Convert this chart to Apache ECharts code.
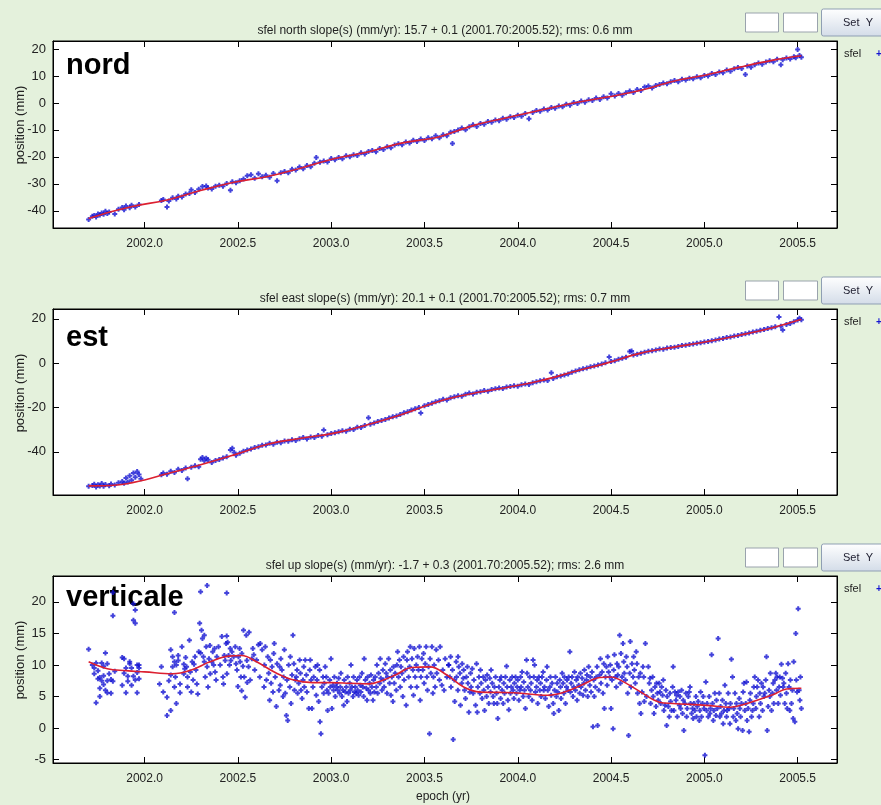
<!DOCTYPE html>
<html><head><meta charset="utf-8">
<script src="https://cdn.jsdelivr.net/npm/echarts@6/dist/echarts.min.js"></script>
<style>html,body{margin:0;padding:0;background:#e4f1dc}#c{width:881px;height:805px}</style>
</head><body><div id="c"></div>
<script>
const xTicks = [2002.0, 2002.5, 2003.0, 2003.5, 2004.0, 2004.5, 2005.0, 2005.5];
const northTicks = [-40, -30, -20, -10, 0, 10, 20];
const eastTicks = [-40, -20, 0, 20];
const upTicks = [-5, 0, 5, 10, 15, 20];
const titles = [
  'sfel north slope(s) (mm/yr): 15.7 + 0.1 (2001.70:2005.52); rms: 0.6 mm',
  'sfel east slope(s) (mm/yr): 20.1 + 0.1 (2001.70:2005.52); rms: 0.7 mm',
  'sfel up slope(s) (mm/yr): -1.7 + 0.3 (2001.70:2005.52); rms: 2.6 mm'
];
const panelLabels = ['nord', 'est', 'verticale'];
const yAxisName = 'position (mm)';
const xAxisName = 'epoch (yr)';
const legendName = 'sfel';

const northModel = [[2001.70,-42.9],[2001.82,-40.4],[2001.94,-38.3],[2002.12,-36.0],[2002.30,-32.5],[2002.48,-29.4],[2002.66,-27.3],[2002.84,-24.1],[2003.01,-20.8],[2003.19,-18.3],[2003.37,-15.0],[2003.58,-12.5],[2003.76,-8.4],[2003.94,-5.5],[2004.12,-2.7],[2004.30,0.0],[2004.48,2.2],[2004.66,4.7],[2004.83,8.0],[2005.01,10.4],[2005.19,13.3],[2005.37,15.9],[2005.52,17.5]];
const eastModel = [[2001.70,-55.4],[2001.85,-55.0],[2002.00,-52.7],[2002.12,-49.9],[2002.30,-45.9],[2002.48,-41.4],[2002.66,-36.6],[2002.84,-33.9],[2003.01,-31.7],[2003.19,-27.9],[2003.37,-23.4],[2003.58,-17.2],[2003.76,-13.7],[2003.94,-11.0],[2004.12,-8.0],[2004.30,-3.9],[2004.48,0.1],[2004.66,4.5],[2004.83,7.1],[2005.01,9.6],[2005.19,12.6],[2005.37,16.1],[2005.52,19.8]];
const upModel = [[2001.70,10.5],[2001.80,9.4],[2001.90,9.1],[2002.00,8.9],[2002.15,8.6],[2002.25,9.2],[2002.35,10.5],[2002.45,11.4],[2002.52,11.5],[2002.60,10.5],[2002.70,8.8],[2002.80,7.6],[2002.90,7.2],[2003.00,7.2],[2003.10,7.1],[2003.20,7.0],[2003.27,7.5],[2003.35,8.5],[2003.43,9.6],[2003.53,9.7],[2003.62,8.4],[2003.71,6.5],[2003.80,5.7],[2003.98,5.6],[2004.16,5.2],[2004.25,5.7],[2004.34,6.8],[2004.44,8.0],[2004.50,8.1],[2004.55,7.6],[2004.66,5.7],[2004.76,4.1],[2004.83,3.9],[2005.01,3.6],[2005.14,3.3],[2005.23,3.9],[2005.37,5.3],[2005.44,6.2],[2005.52,6.3]];

const northPts = [[2001.70,-43.2],[2001.72,-42.0],[2001.73,-41.8],[2001.74,-42.3],[2001.75,-41.2],[2001.76,-41.6],[2001.77,-40.8],[2001.78,-41.3],[2001.79,-40.2],[2001.80,-41.0],[2001.81,-40.5],[2001.84,-41.2],[2001.86,-39.4],[2001.88,-38.8],[2001.89,-39.6],[2001.90,-38.2],[2001.92,-38.9],[2001.93,-38.0],[2001.95,-38.6],[2001.97,-37.7],[2002.09,-36.2],[2002.10,-35.8],[2002.12,-38.6],[2002.13,-36.4],[2002.15,-35.2],[2002.17,-35.6],[2002.18,-34.6],[2002.20,-34.9],[2002.22,-33.8],[2002.24,-33.6],[2002.25,-32.2],[2002.27,-33.2],[2002.29,-32.0],[2002.31,-31.0],[2002.33,-30.8],[2002.34,-31.6],[2002.36,-31.9],[2002.38,-30.9],[2002.40,-30.5],[2002.42,-30.9],[2002.44,-29.9],[2002.46,-32.4],[2002.47,-29.2],[2002.49,-29.6],[2002.51,-28.9],[2002.53,-28.2],[2002.55,-27.0],[2002.57,-26.6],[2002.59,-27.9],[2002.61,-26.3],[2002.63,-27.4],[2002.65,-26.8],[2002.67,-27.6],[2002.69,-26.2],[2002.71,-28.9],[2002.73,-25.9],[2002.75,-25.4],[2002.77,-25.9],[2002.79,-24.6],[2002.81,-24.9],[2002.83,-23.8],[2002.85,-24.4],[2002.87,-23.2],[2002.89,-23.7],[2002.91,-22.4],[2002.92,-20.2],[2002.94,-22.0],[2002.96,-21.5],[2002.98,-21.9],[2003.00,-20.6],[2003.02,-21.1],[2003.04,-20.2],[2003.06,-20.7],[2003.08,-19.6],[2003.10,-20.0],[2003.12,-19.2],[2003.14,-19.5],[2003.16,-18.5],[2003.18,-18.9],[2003.20,-18.0],[2003.22,-17.6],[2003.24,-18.1],[2003.26,-16.9],[2003.28,-17.3],[2003.30,-16.2],[2003.32,-16.6],[2003.34,-15.6],[2003.36,-15.1],[2003.38,-15.5],[2003.40,-14.5],[2003.42,-14.9],[2003.44,-13.8],[2003.46,-14.3],[2003.48,-13.4],[2003.50,-13.9],[2003.52,-12.9],[2003.54,-13.3],[2003.56,-12.2],[2003.58,-12.9],[2003.60,-11.8],[2003.62,-12.2],[2003.64,-10.9],[2003.65,-15.0],[2003.66,-10.6],[2003.68,-10.0],[2003.70,-9.3],[2003.72,-9.9],[2003.74,-8.8],[2003.76,-8.1],[2003.78,-8.7],[2003.80,-7.6],[2003.82,-7.9],[2003.84,-6.9],[2003.86,-7.2],[2003.88,-6.3],[2003.90,-6.6],[2003.92,-5.7],[2003.94,-6.0],[2003.96,-5.1],[2003.98,-5.4],[2004.00,-4.6],[2004.02,-4.9],[2004.04,-3.9],[2004.06,-5.9],[2004.08,-3.5],[2004.10,-2.8],[2004.12,-3.1],[2004.14,-2.2],[2004.16,-2.6],[2004.18,-1.7],[2004.20,-2.0],[2004.22,-1.1],[2004.24,-1.4],[2004.26,-0.5],[2004.28,-0.8],[2004.30,0.2],[2004.32,-0.2],[2004.34,0.7],[2004.36,0.3],[2004.38,1.2],[2004.40,0.9],[2004.42,1.8],[2004.44,1.3],[2004.46,2.3],[2004.48,1.8],[2004.50,3.4],[2004.52,2.6],[2004.54,3.5],[2004.56,2.9],[2004.58,3.8],[2004.60,4.4],[2004.62,3.9],[2004.64,5.0],[2004.66,4.6],[2004.68,5.9],[2004.70,6.3],[2004.72,5.6],[2004.74,6.5],[2004.76,6.9],[2004.78,7.4],[2004.80,7.1],[2004.82,7.9],[2004.84,8.3],[2004.86,7.9],[2004.88,8.8],[2004.90,8.5],[2004.92,9.2],[2004.94,9.0],[2004.96,9.7],[2004.98,9.4],[2005.00,10.2],[2005.02,10.0],[2005.04,10.9],[2005.06,10.6],[2005.08,11.5],[2005.10,11.2],[2005.12,12.2],[2005.14,11.8],[2005.16,12.7],[2005.18,13.2],[2005.20,12.8],[2005.22,10.6],[2005.23,13.7],[2005.25,13.3],[2005.27,14.2],[2005.29,14.8],[2005.31,14.4],[2005.33,15.2],[2005.35,15.7],[2005.37,15.3],[2005.39,16.2],[2005.41,14.2],[2005.42,16.0],[2005.44,16.7],[2005.46,16.3],[2005.48,17.2],[2005.49,16.8],[2005.50,19.8],[2005.51,17.6],[2005.52,17.0]];

const eastPts = [[2001.70,-55.6],[2001.72,-55.2],[2001.73,-54.6],[2001.74,-55.9],[2001.75,-54.9],[2001.76,-55.4],[2001.77,-54.3],[2001.78,-55.6],[2001.79,-54.8],[2001.81,-55.3],[2001.82,-54.5],[2001.84,-55.0],[2001.86,-54.0],[2001.88,-53.4],[2001.89,-54.2],[2001.90,-51.8],[2001.91,-53.6],[2001.92,-50.8],[2001.93,-52.9],[2001.94,-49.6],[2001.95,-51.5],[2001.96,-48.9],[2001.97,-50.3],[2001.98,-52.2],[2002.09,-50.4],[2002.10,-49.6],[2002.12,-50.1],[2002.14,-48.8],[2002.16,-49.3],[2002.18,-47.9],[2002.20,-48.4],[2002.22,-47.3],[2002.23,-52.2],[2002.25,-47.0],[2002.27,-46.3],[2002.29,-46.8],[2002.30,-43.4],[2002.31,-42.6],[2002.32,-44.0],[2002.33,-42.9],[2002.34,-43.6],[2002.36,-44.8],[2002.38,-43.9],[2002.40,-43.5],[2002.42,-42.8],[2002.44,-42.2],[2002.46,-39.2],[2002.47,-38.4],[2002.48,-40.3],[2002.49,-41.6],[2002.51,-40.7],[2002.53,-39.8],[2002.55,-39.2],[2002.57,-38.7],[2002.59,-38.1],[2002.61,-37.7],[2002.63,-37.1],[2002.65,-36.9],[2002.67,-36.2],[2002.69,-36.6],[2002.71,-35.7],[2002.73,-35.9],[2002.75,-35.1],[2002.77,-35.3],[2002.79,-34.6],[2002.81,-34.9],[2002.83,-34.1],[2002.85,-33.6],[2002.87,-34.2],[2002.89,-33.3],[2002.91,-33.6],[2002.93,-32.7],[2002.95,-33.0],[2002.96,-30.2],[2002.98,-32.3],[2003.00,-31.8],[2003.02,-31.4],[2003.04,-31.0],[2003.06,-30.5],[2003.08,-30.8],[2003.10,-29.8],[2003.12,-30.0],[2003.14,-28.9],[2003.16,-29.1],[2003.18,-28.2],[2003.20,-24.6],[2003.21,-27.6],[2003.23,-27.0],[2003.25,-26.4],[2003.27,-25.9],[2003.29,-25.5],[2003.31,-24.8],[2003.33,-24.2],[2003.35,-23.9],[2003.37,-23.2],[2003.39,-22.4],[2003.41,-22.0],[2003.43,-21.2],[2003.45,-20.6],[2003.47,-20.0],[2003.48,-22.5],[2003.50,-19.2],[2003.52,-18.7],[2003.54,-18.1],[2003.56,-17.4],[2003.58,-17.0],[2003.60,-16.3],[2003.62,-16.7],[2003.64,-15.6],[2003.66,-15.2],[2003.68,-14.7],[2003.70,-14.9],[2003.72,-14.1],[2003.74,-13.5],[2003.76,-13.9],[2003.78,-13.2],[2003.80,-12.9],[2003.82,-12.4],[2003.84,-12.7],[2003.86,-11.9],[2003.88,-11.6],[2003.90,-11.2],[2003.92,-11.5],[2003.94,-10.8],[2003.96,-10.6],[2003.98,-10.2],[2004.00,-10.5],[2004.02,-9.8],[2004.04,-9.4],[2004.06,-9.7],[2004.08,-8.9],[2004.10,-8.4],[2004.12,-8.0],[2004.14,-7.6],[2004.16,-7.9],[2004.18,-4.3],[2004.19,-6.9],[2004.21,-6.2],[2004.23,-5.8],[2004.25,-5.4],[2004.27,-4.9],[2004.29,-4.1],[2004.31,-3.6],[2004.33,-3.0],[2004.35,-2.6],[2004.37,-2.2],[2004.39,-1.7],[2004.41,-1.3],[2004.43,-0.9],[2004.45,-0.4],[2004.47,0.2],[2004.49,2.8],[2004.50,0.7],[2004.52,1.1],[2004.54,1.7],[2004.56,2.2],[2004.58,2.6],[2004.60,5.2],[2004.61,5.4],[2004.62,3.6],[2004.64,4.0],[2004.66,4.4],[2004.68,4.9],[2004.70,5.3],[2004.72,5.6],[2004.74,5.9],[2004.76,6.4],[2004.78,6.3],[2004.80,6.8],[2004.82,7.0],[2004.84,7.2],[2004.86,7.5],[2004.88,7.9],[2004.90,8.1],[2004.92,8.4],[2004.94,8.6],[2004.96,8.9],[2004.98,9.2],[2005.00,9.5],[2005.02,9.7],[2005.04,10.1],[2005.06,10.4],[2005.08,10.9],[2005.10,11.1],[2005.12,11.5],[2005.14,11.8],[2005.16,12.2],[2005.18,12.4],[2005.20,12.9],[2005.22,13.2],[2005.24,13.6],[2005.26,14.0],[2005.28,14.4],[2005.30,14.8],[2005.32,15.1],[2005.34,15.6],[2005.36,15.9],[2005.38,16.4],[2005.40,20.8],[2005.41,16.6],[2005.42,14.9],[2005.44,17.4],[2005.46,17.9],[2005.48,18.6],[2005.50,19.4],[2005.51,20.2],[2005.52,19.6]];

const upPts = [
[2001.70,12.5],[2001.72,10.0],[2001.73,9.5],[2001.73,8.6],[2001.74,4.0],[2001.74,10.3],[2001.75,7.8],[2001.75,9.1],[2001.76,5.0],[2001.76,6.3],[2001.76,8.0],[2001.77,10.3],[2001.77,7.5],[2001.78,9.8],[2001.78,8.3],[2001.78,6.9],[2001.79,6.0],[2001.79,11.9],[2001.80,7.5],[2001.80,5.6],[2001.80,10.2],[2001.81,8.6],[2001.82,7.7],[2001.82,5.5],[2001.83,21.5],[2001.83,17.8],[2001.83,7.4],[2001.84,9.0],[2001.88,6.8],[2001.88,11.2],[2001.89,8.7],[2001.89,11.0],[2001.90,9.5],[2001.90,5.6],[2001.91,7.4],[2001.91,8.2],[2001.92,10.5],[2001.92,10.2],[2001.93,6.8],[2001.93,9.5],[2001.94,19.7],[2001.94,17.1],[2001.94,8.2],[2001.95,18.7],[2001.95,16.6],[2001.95,7.6],[2001.96,10.0],[2001.96,5.6],[2001.96,8.8],[2001.97,9.5],[2001.97,7.8],[2001.97,10.0],
[2002.08,7.0],[2002.09,9.7],[2002.10,5.7],[2002.12,2.0],[2002.12,4.9],[2002.13,7.5],[2002.14,8.4],[2002.14,2.8],[2002.14,12.4],[2002.15,11.3],[2002.15,9.7],[2002.16,10.5],[2002.16,6.5],[2002.16,18.3],[2002.165,8.1],[2002.17,3.9],[2002.17,10.0],[2002.18,10.7],[2002.18,11.5],[2002.19,7.0],[2002.19,5.6],[2002.20,12.9],[2002.21,8.6],[2002.21,10.1],[2002.215,9.4],[2002.22,11.2],[2002.225,9.7],[2002.23,8.1],[2002.23,6.5],[2002.24,13.9],[2002.245,8.9],[2002.25,5.7],[2002.255,10.5],[2002.26,7.6],[2002.265,10.1],[2002.27,11.3],[2002.275,9.2],[2002.28,7.0],[2002.285,5.4],[2002.29,12.1],[2002.295,16.6],[2002.30,21.6],[2002.30,11.9],[2002.305,15.5],[2002.31,14.2],[2002.315,11.3],[2002.32,10.5],[2002.32,14.7],[2002.325,8.1],[2002.33,12.9],[2002.335,22.6],[2002.335,9.7],[2002.34,6.5],[2002.345,11.0],[2002.35,13.1],[2002.352,8.6],[2002.36,10.5],[2002.365,12.1],[2002.37,10.0],[2002.375,12.6],[2002.378,8.9],[2002.383,7.6],[2002.387,11.3],[2002.396,12.9],[2002.405,10.0],[2002.414,14.5],[2002.42,8.1],[2002.423,7.0],[2002.427,11.5],[2002.432,10.7],[2002.437,13.4],[2002.44,21.4],[2002.44,14.6],[2002.441,8.6],[2002.445,13.6],[2002.45,11.5],[2002.455,10.0],[2002.459,12.6],[2002.462,10.7],[2002.468,12.1],[2002.477,11.3],[2002.486,12.9],[2002.49,10.2],[2002.495,9.2],[2002.50,6.6],[2002.503,11.3],[2002.509,12.6],[2002.512,10.5],[2002.516,8.1],[2002.52,5.9],[2002.521,11.8],[2002.527,9.8],[2002.53,15.5],[2002.534,8.1],[2002.539,4.9],[2002.545,14.7],[2002.548,10.7],[2002.55,7.2],[2002.557,9.7],[2002.56,15.2],[2002.566,7.6],[2002.575,11.0],
[2002.58,12.6],[2002.585,11.6],[2002.59,9.2],[2002.60,10.8],[2002.61,13.2],[2002.617,8.1],[2002.62,13.4],[2002.63,12.4],[2002.64,6.5],[2002.642,10.0],[2002.647,12.9],[2002.653,7.6],[2002.66,11.3],[2002.665,8.7],[2002.67,4.4],[2002.674,10.8],[2002.678,7.1],[2002.683,9.7],[2002.688,5.7],[2002.692,11.8],[2002.695,13.4],[2002.70,8.1],[2002.706,3.4],[2002.71,10.2],[2002.72,6.0],[2002.724,9.7],[2002.727,6.8],[2002.73,11.0],[2002.736,9.2],[2002.742,5.0],[2002.745,8.1],[2002.749,12.4],[2002.754,5.5],[2002.76,2.0],[2002.763,7.6],[2002.767,1.2],[2002.772,10.0],[2002.778,6.5],[2002.781,11.3],[2002.785,3.9],[2002.79,8.4],[2002.795,14.7],[2002.80,10.2],[2002.803,6.0],[2002.808,7.6],[2002.813,8.1],[2002.817,9.2],[2002.82,5.5],[2002.826,7.1],[2002.831,10.8],[2002.835,8.7],[2002.838,6.0],[2002.844,4.7],[2002.849,7.6],[2002.853,9.7],[2002.856,6.5],[2002.861,10.8],[2002.867,8.4],[2002.87,5.7],[2002.88,3.1],[2002.885,9.2],[2002.888,10.8],[2002.892,7.6],[2002.897,3.1],[2002.902,6.5],[2002.906,8.1],[2002.915,9.7],[2002.92,5.2],[2002.924,7.6],[2002.927,10.0],[2002.933,4.2],[2002.938,9.2],[2002.94,1.0],[2002.945,-0.9],[2002.95,6.5],[2002.956,8.1],[2002.96,5.5],[2002.963,7.1],[2002.968,9.7],[2002.974,8.1],[2002.977,6.0],[2002.981,2.8],[2002.986,5.5],[2002.992,7.6],[2002.995,6.5],[2002.999,11.0],[2003.004,3.1],[2003.01,6.8],[2003.013,6.0],[2003.017,8.1],[2003.022,5.0],[2003.027,6.5],[2003.031,7.1],[2003.035,6.0],[2003.04,7.9],[2003.045,5.5],[2003.049,6.5],[2003.052,8.7],[2003.058,5.0],[2003.063,6.0],[2003.067,3.6],[2003.07,7.6],[2003.076,5.7],[2003.081,6.5],[2003.085,4.2],[2003.088,8.1],[2003.093,5.5],[2003.099,7.1],[2003.102,6.0],[2003.106,10.0],[2003.111,6.5],[2003.117,5.0],[2003.12,8.1],[2003.124,5.7],[2003.129,6.5],[2003.134,5.5],[2003.138,7.6],[2003.142,6.0],[2003.147,5.2],[2003.152,8.1],[2003.156,6.8],[2003.159,5.7],[2003.165,8.7],[2003.17,6.5],[2003.174,5.0],[2003.177,11.0],[2003.183,7.6],[2003.188,6.3],[2003.192,4.4],[2003.195,8.1],[2003.20,6.0],[2003.206,7.1],[2003.21,5.5],[2003.213,8.4],[2003.218,6.5],[2003.224,4.4],[2003.227,7.6],[2003.231,5.7],[2003.236,8.1],[2003.242,6.5],[2003.245,10.0],[2003.249,5.5],[2003.254,8.7],[2003.26,7.1],[2003.263,11.0],[2003.266,7.9],[2003.272,6.0],[2003.277,9.2],[2003.281,7.6],[2003.284,6.5],[2003.29,10.2],[2003.295,8.7],[2003.299,5.5],[2003.302,8.1],[2003.308,11.0],[2003.313,7.1],[2003.317,9.2],[2003.32,5.2],[2003.325,8.1],[2003.331,4.2],[2003.334,9.7],[2003.338,7.1],[2003.343,8.7],[2003.349,6.0],[2003.352,10.0],[2003.356,12.1],[2003.361,8.1],[2003.366,10.8],[2003.37,6.5],[2003.374,9.7],[2003.379,8.7],[2003.384,5.0],[2003.388,11.3],[2003.391,7.6],[2003.397,9.2],[2003.402,3.6],[2003.406,10.8],[2003.409,12.1],[2003.415,8.1],[2003.42,9.7],[2003.424,12.9],[2003.427,6.5],[2003.433,11.0],[2003.438,9.2],[2003.441,5.2],[2003.445,12.6],[2003.45,8.1],[2003.456,10.0],[2003.459,6.5],[2003.463,11.3],[2003.468,9.2],[2003.473,12.9],[2003.477,4.4],[2003.481,8.1],[2003.486,11.0],[2003.491,9.2],[2003.495,11.8],[2003.498,7.1],[2003.504,10.2],[2003.509,12.9],[2003.513,8.1],[2003.516,6.0],[2003.522,9.7],[2003.527,-0.9],[2003.53,11.0],[2003.534,8.7],[2003.54,12.9],[2003.545,5.5],[2003.548,8.1],[2003.552,10.0],[2003.557,6.5],[2003.563,12.4],[2003.566,8.7],[2003.575,10.8],[2003.58,7.6],[2003.584,12.9],[2003.593,6.8],[2003.598,9.2],[2003.605,6.0],[2003.611,11.0],[2003.62,8.1],[2003.629,10.0],
[2003.63,10.0],[2003.636,8.1],[2003.64,11.3],[2003.642,6.5],[2003.65,9.2],[2003.654,-1.8],[2003.66,7.6],[2003.662,4.2],[2003.67,10.5],[2003.672,8.1],[2003.68,11.3],[2003.679,6.0],[2003.684,9.7],[2003.69,8.7],[2003.693,3.6],[2003.70,7.1],[2003.702,10.2],[2003.708,7.9],[2003.71,9.2],[2003.715,6.0],[2003.72,4.7],[2003.725,8.1],[2003.73,9.7],[2003.733,7.1],[2003.738,2.5],[2003.743,5.7],[2003.747,8.7],[2003.75,6.5],[2003.756,9.4],[2003.761,5.5],[2003.765,7.6],[2003.774,3.6],[2003.779,10.2],[2003.783,2.5],[2003.786,6.5],[2003.792,8.1],[2003.797,5.5],[2003.80,9.2],[2003.804,7.1],[2003.809,4.7],[2003.815,8.1],[2003.818,6.0],[2003.822,2.8],[2003.827,7.6],[2003.833,5.0],[2003.836,8.4],[2003.84,6.5],[2003.845,3.9],[2003.85,7.9],[2003.854,5.7],[2003.857,9.2],[2003.863,7.1],[2003.868,5.0],[2003.872,3.9],[2003.875,6.5],[2003.881,8.1],[2003.886,5.5],[2003.89,3.9],[2003.893,1.5],[2003.899,6.5],[2003.904,7.6],[2003.908,4.7],[2003.911,8.1],[2003.916,6.0],[2003.922,3.9],[2003.925,7.1],[2003.929,5.5],[2003.934,8.1],[2003.94,9.8],[2003.943,6.5],[2003.947,4.4],[2003.952,2.9],[2003.957,7.6],[2003.961,5.5],[2003.965,6.5],[2003.97,8.1],[2003.975,6.0],[2003.979,4.7],[2003.982,7.1],[2003.988,8.1],[2003.993,5.5],[2003.997,6.5],[2004.00,7.6],[2004.006,4.4],[2004.011,6.0],[2004.015,8.1],[2004.018,6.5],[2004.023,8.9],[2004.029,5.0],[2004.032,7.3],[2004.036,6.0],[2004.041,3.1],[2004.047,10.8],[2004.05,8.7],[2004.054,6.5],[2004.059,5.0],[2004.064,8.1],[2004.068,6.0],[2004.072,7.1],[2004.077,4.4],[2004.082,10.8],[2004.086,8.1],[2004.09,10.0],[2004.095,5.7],[2004.10,6.5],[2004.104,7.6],[2004.107,3.9],[2004.113,8.1],[2004.118,6.0],[2004.122,7.1],[2004.125,5.0],[2004.13,8.1],[2004.136,8.9],[2004.139,6.0],[2004.143,6.5],[2004.148,4.7],[2004.154,7.6],[2004.157,9.7],[2004.161,6.0],[2004.166,3.4],[2004.172,6.5],[2004.175,8.1],[2004.179,5.2],[2004.184,7.1],[2004.19,3.9],[2004.193,2.3],[2004.197,6.0],[2004.202,8.1],[2004.207,5.0],[2004.211,7.1],[2004.214,5.7],[2004.22,2.8],[2004.225,7.6],[2004.229,6.5],[2004.232,4.7],[2004.238,8.7],[2004.243,7.1],[2004.247,5.5],[2004.25,8.1],[2004.256,3.9],[2004.261,6.5],[2004.264,7.6],[2004.268,6.0],[2004.273,8.1],[2004.279,12.1],[2004.282,5.7],[2004.286,7.1],[2004.291,8.1],[2004.296,5.0],[2004.30,6.5],[2004.304,8.9],[2004.309,6.0],[2004.314,7.6],[2004.318,4.4],[2004.321,8.1],[2004.327,6.8],[2004.332,5.5],[2004.336,8.7],[2004.339,6.5],[2004.345,7.9],[2004.35,5.2],[2004.354,7.1],[2004.357,9.2],[2004.363,6.0],[2004.368,7.6],[2004.371,8.4],[2004.375,5.0],[2004.38,9.7],[2004.386,6.8],[2004.389,8.1],[2004.393,5.7],[2004.398,8.9],[2004.403,0.2],[2004.407,7.6],[2004.41,5.0],[2004.416,6.5],[2004.421,8.1],[2004.425,9.7],[2004.428,0.4],[2004.434,6.0],[2004.439,8.4],[2004.443,11.0],[2004.446,7.1],[2004.452,8.9],[2004.457,5.5],[2004.461,10.2],[2004.464,3.1],[2004.47,8.1],[2004.475,9.7],[2004.479,6.8],[2004.482,11.3],[2004.487,8.9],[2004.493,8.1],[2004.496,10.0],[2004.50,3.1],[2004.505,7.6],[2004.511,-0.1],[2004.514,9.2],[2004.518,11.6],[2004.523,8.1],[2004.528,6.5],[2004.532,10.2],[2004.536,8.4],[2004.541,9.7],[2004.546,14.7],[2004.55,7.1],[2004.553,11.8],[2004.559,8.1],[2004.564,13.4],[2004.568,10.5],[2004.571,8.7],[2004.577,7.6],[2004.582,11.3],[2004.586,9.7],[2004.589,5.5],[2004.594,-1.2],[2004.60,8.7],[2004.603,13.7],[2004.607,6.5],[2004.612,10.2],[2004.618,8.1],[2004.621,11.3],[2004.625,9.2],[2004.63,7.1],[2004.635,12.1],[2004.639,10.2],[2004.642,5.5],[2004.648,8.1],[2004.653,3.9],[2004.657,8.7],[2004.66,2.3],[2004.666,5.7],[2004.671,9.7],[2004.675,8.1],[2004.678,4.2],[2004.684,13.4],
[2004.69,5.0],[2004.70,9.7],[2004.705,7.1],[2004.709,7.9],[2004.712,3.9],[2004.717,6.0],[2004.723,8.1],[2004.726,5.0],[2004.73,2.3],[2004.735,6.5],[2004.741,3.4],[2004.744,7.1],[2004.748,5.5],[2004.753,4.4],[2004.758,7.1],[2004.762,5.7],[2004.766,3.9],[2004.771,6.5],[2004.776,5.2],[2004.78,7.6],[2004.783,2.8],[2004.789,3.6],[2004.794,6.0],[2004.798,0.4],[2004.801,5.0],[2004.807,3.4],[2004.812,1.8],[2004.816,5.5],[2004.819,4.2],[2004.824,2.8],[2004.83,6.5],[2004.833,9.7],[2004.837,2.8],[2004.842,5.7],[2004.848,4.4],[2004.851,5.2],[2004.855,1.8],[2004.86,5.7],[2004.866,3.6],[2004.869,5.0],[2004.873,3.1],[2004.878,6.0],[2004.883,2.3],[2004.887,4.4],[2004.89,-0.4],[2004.896,3.9],[2004.901,5.5],[2004.905,1.8],[2004.908,3.1],[2004.914,5.0],[2004.919,5.7],[2004.923,6.5],[2004.926,3.9],[2004.932,2.3],[2004.937,3.1],[2004.94,1.5],[2004.944,3.9],[2004.949,2.8],[2004.955,5.0],[2004.958,1.8],[2004.962,3.4],[2004.967,4.2],[2004.973,1.2],[2004.976,2.8],[2004.98,5.7],[2004.985,1.8],[2004.99,3.9],[2004.994,5.0],[2004.998,3.1],[2005.003,-4.3],[2005.008,7.3],[2005.012,2.8],[2005.015,3.9],[2005.021,1.8],[2005.026,5.0],[2005.03,2.3],[2005.033,3.1],[2005.039,11.6],[2005.044,3.9],[2005.048,1.2],[2005.051,2.8],[2005.056,5.5],[2005.062,2.0],[2005.065,4.4],[2005.069,3.1],[2005.074,14.2],[2005.08,5.5],[2005.083,1.8],[2005.087,3.4],[2005.092,2.3],[2005.097,4.4],[2005.101,0.7],[2005.105,2.8],[2005.11,6.8],[2005.115,3.9],[2005.119,1.8],[2005.122,2.8],[2005.128,5.5],[2005.133,3.1],[2005.137,0.7],[2005.14,3.9],[2005.145,10.9],[2005.151,8.1],[2005.155,1.8],[2005.158,3.1],[2005.164,5.5],[2005.169,1.2],[2005.172,3.9],[2005.176,2.3],[2005.181,-0.1],[2005.187,4.7],[2005.19,3.1],[2005.194,1.8],[2005.199,3.9],[2005.205,-0.4],[2005.208,5.7],[2005.212,7.1],[2005.217,2.8],[2005.222,3.9],[2005.226,7.3],[2005.229,1.2],[2005.235,3.1],[2005.24,-0.6],[2005.244,4.4],[2005.247,5.5],[2005.253,1.8],[2005.258,2.8],[2005.262,3.9],[2005.265,6.5],[2005.27,8.1],[2005.276,3.1],[2005.279,5.0],[2005.283,6.5],[2005.288,7.6],[2005.294,1.8],[2005.297,5.5],[2005.301,3.9],[2005.306,7.1],[2005.312,2.8],[2005.315,6.5],[2005.319,5.0],[2005.324,5.5],[2005.329,7.6],[2005.333,11.3],[2005.337,-0.4],[2005.342,3.4],[2005.347,6.0],[2005.351,5.0],[2005.354,8.7],[2005.36,2.8],[2005.365,5.5],[2005.369,7.1],[2005.372,3.9],[2005.378,7.6],[2005.383,8.7],[2005.387,6.0],[2005.39,8.1],[2005.396,3.9],[2005.401,6.5],[2005.404,8.1],[2005.408,5.2],[2005.413,10.1],[2005.419,7.9],[2005.422,6.5],[2005.426,7.1],[2005.431,3.9],[2005.436,8.7],[2005.44,5.5],[2005.444,3.1],[2005.449,10.2],[2005.454,6.5],[2005.458,2.8],[2005.461,7.6],[2005.467,3.9],[2005.472,6.0],[2005.476,1.5],[2005.479,10.5],[2005.485,1.0],[2005.49,15.0],[2005.493,7.6],[2005.497,5.7],[2005.503,18.9],[2005.508,6.0],[2005.512,4.4],[2005.515,8.1],[2005.52,3.1]
];

const panels = [
  {pts: northPts, model: northModel, ticks: northTicks, yMin: -46.4, yMax: 23.0, top: 41, h: 187, labelY: 66},
  {pts: eastPts, model: eastModel, ticks: eastTicks, yMin: -59.5, yMax: 24.4, top: 309, h: 186, labelY: 338},
  {pts: upPts, model: upModel, ticks: upTicks, yMin: -5.54, yMax: 24.1, top: 576, h: 187, labelY: 598}
];
const X_MIN = 2001.509, X_MAX = 2005.711;
const FONT = "'Liberation Sans', Arial, sans-serif";
const plus = 'path://M1.5,0L3.5,0L3.5,1.5L5,1.5L5,3.5L3.5,3.5L3.5,5L1.5,5L1.5,3.5L0,3.5L0,1.5L1.5,1.5Z';

const grid = [], xAxis = [], yAxis = [], series = [], graphic = [];
panels.forEach((p, i) => {
  grid.push({left: 53, width: 784, top: p.top, height: p.h, show: true, backgroundColor: '#ffffff', borderColor: '#000', borderWidth: 1});
  const tickStyle = {lineStyle: {color: '#000', width: 1}};
  xAxis.push({type: 'value', gridIndex: i, min: X_MIN, max: X_MAX, position: 'bottom',
    axisLine: {onZero: false, lineStyle: {color: '#000'}},
    axisTick: Object.assign({inside: true, length: 6, customValues: xTicks}, tickStyle),
    axisLabel: {customValues: xTicks, formatter: v => v.toFixed(1), margin: 10, fontSize: 12, color: '#222', fontFamily: FONT},
    splitLine: {show: false}});
  xAxis.push({type: 'value', gridIndex: i, min: X_MIN, max: X_MAX, position: 'top',
    axisLine: {onZero: false, lineStyle: {color: '#000'}},
    axisTick: Object.assign({inside: true, length: 6, customValues: xTicks}, tickStyle),
    axisLabel: {show: false}, splitLine: {show: false}});
  yAxis.push({type: 'value', gridIndex: i, min: p.yMin, max: p.yMax, position: 'left',
    axisLine: {onZero: false, lineStyle: {color: '#000'}},
    axisTick: Object.assign({inside: true, length: 6, customValues: p.ticks}, tickStyle),
    axisLabel: {customValues: p.ticks, formatter: v => String(v), margin: 7, fontSize: 13, color: '#222', fontFamily: FONT},
    splitLine: {show: false}});
  yAxis.push({type: 'value', gridIndex: i, min: p.yMin, max: p.yMax, position: 'right',
    axisLine: {onZero: false, lineStyle: {color: '#000'}},
    axisTick: Object.assign({inside: true, length: 6, customValues: p.ticks}, tickStyle),
    axisLabel: {show: false}, splitLine: {show: false}});
  series.push({type: 'scatter', xAxisIndex: 2 * i, yAxisIndex: 2 * i, data: p.pts, symbol: plus, symbolSize: 5,
    itemStyle: {color: '#1414d2'}, z: 2, silent: true});
  series.push({type: 'line', xAxisIndex: 2 * i, yAxisIndex: 2 * i, data: p.model, showSymbol: false, smooth: 0.4,
    lineStyle: {color: '#dc2030', width: 1.6}, z: 3, silent: true});

  graphic.push({type: 'text', x: 445, y: p.top - 10, style: {text: titles[i], font: '12px ' + FONT, fill: '#222', align: 'center', verticalAlign: 'middle'}});
  graphic.push({type: 'text', x: 66, y: p.labelY, style: {text: panelLabels[i], font: 'bold 29px ' + FONT, fill: '#000', align: 'left', verticalAlign: 'middle'}});
  graphic.push({type: 'text', x: 20, y: p.top + 84, rotation: Math.PI / 2, style: {text: yAxisName, font: '13px ' + FONT, fill: '#222', align: 'center', verticalAlign: 'middle'}});
  graphic.push({type: 'rect', shape: {x: 745.5, y: p.top - 28, width: 33, height: 19}, style: {fill: '#fff', stroke: '#9aa3ad', lineWidth: 1}});
  graphic.push({type: 'rect', shape: {x: 783.5, y: p.top - 28, width: 34, height: 19}, style: {fill: '#fff', stroke: '#9aa3ad', lineWidth: 1}});
  graphic.push({type: 'rect', shape: {x: 821.5, y: p.top - 32, width: 64, height: 27, r: 2},
    style: {fill: new echarts.graphic.LinearGradient(0, 0, 0, 1, [{offset: 0, color: '#ffffff'}, {offset: 1, color: '#d3dce8'}]), stroke: '#8f9fb3', lineWidth: 1}});
  graphic.push({type: 'text', x: 858, y: p.top - 18.5, style: {text: 'Set  Y', font: '11px ' + FONT, fill: '#223', align: 'center', verticalAlign: 'middle'}});
  graphic.push({type: 'text', x: 844, y: p.top + 13, style: {text: legendName, font: '11px ' + FONT, fill: '#222', align: 'left', verticalAlign: 'middle'}});
  graphic.push({type: 'text', x: 879, y: p.top + 13, style: {text: '+', font: 'bold 10px ' + FONT, fill: '#1414d2', align: 'center', verticalAlign: 'middle'}});
});
graphic.push({type: 'text', x: 443, y: 797, style: {text: xAxisName, font: '12px ' + FONT, fill: '#222', align: 'center', verticalAlign: 'middle'}});

const chart = echarts.init(document.getElementById('c'), null, {renderer: 'canvas'});
chart.setOption({backgroundColor: '#e4f1dc', animation: false, grid, xAxis, yAxis, series, graphic});
</script>
</body></html>
